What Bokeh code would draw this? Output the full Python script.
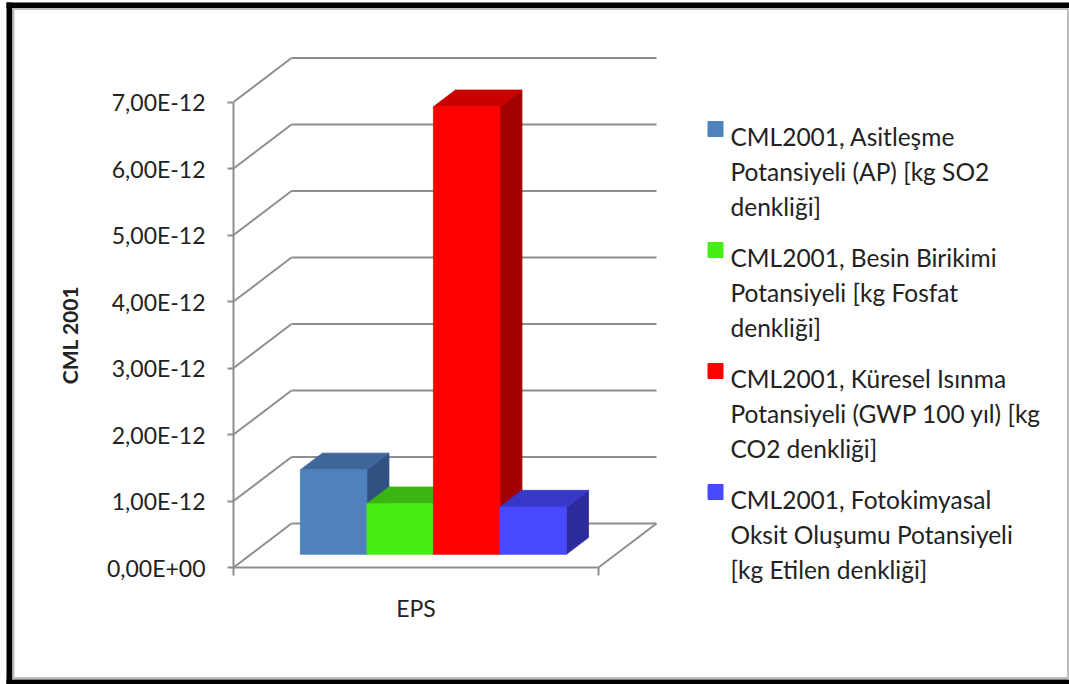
from bokeh.plotting import figure
from bokeh.models import (Range1d, LinearAxis, FixedTicker, CustomJSTickFormatter,
                          ColumnDataSource)
from bokeh.core.properties import value
from bokeh.embed import file_html
from bokeh.resources import INLINE

# ---- data -------------------------------------------------------------
category = "EPS"
series_labels = [
    ["CML2001, Asitleşme", "Potansiyeli (AP) [kg SO2", "denkliği]"],
    ["CML2001, Besin Birikimi", "Potansiyeli [kg Fosfat", "denkliği]"],
    ["CML2001, Küresel Isınma", "Potansiyeli (GWP 100 yıl) [kg", "CO2 denkliği]"],
    ["CML2001, Fotokimyasal", "Oksit Oluşumu Potansiyeli", "[kg Etilen denkliği]"],
]
series_values = [1.27e-12, 0.76e-12, 6.73e-12, 0.71e-12]
y_ticks = [0.0, 1e-12, 2e-12, 3e-12, 4e-12, 5e-12, 6e-12, 7e-12]

front_colors = ["#4f81bd", "#47ee14", "#ff0000", "#4848ff"]
top_colors = ["#3d6699", "#3bb512", "#cc0000", "#3838c8"]
side_colors = ["#2f5283", "#2e8f0e", "#a30000", "#2b2b9e"]

# ---- layout -----------------------------------------------------------
W, H = 1069, 684
ORIGIN_X, ORIGIN_Y = 233, 567   # where the value axis meets the floor (px)
UPP = 1e-12 / 66.5              # value units per screen pixel
FLOOR_W = 365                   # width of the floor (px)
DX, DY = 58, 44 * UPP           # oblique depth of the floor
BAR_W = 66.5
F_FRONT, F_BACK = 0.30, 0.68    # depth band occupied by the bars
FONT = "Lato"
TXT = "#222222"
GRID = "#8e8e8e"


def px(sx):
    return sx - ORIGIN_X


def py(sy):
    return (ORIGIN_Y - sy) * UPP


p = figure(width=W, height=H, output_backend="svg", toolbar_location=None,
           x_range=Range1d(px(0), px(W)), y_range=Range1d(py(H), py(0)),
           x_axis_type=None, y_axis_type=None, min_border=0)
p.outline_line_color = None
p.background_fill_color = "white"
p.border_fill_color = "white"

# value axis
yaxis = LinearAxis(
    ticker=FixedTicker(ticks=y_ticks, minor_ticks=[]),
    formatter=CustomJSTickFormatter(code="""
        const m = tick / 1e-12;
        if (Math.abs(m) < 1e-6) return "0,00E+00";
        return m.toFixed(2).replace(".", ",") + "E-12";
    """),
    bounds=(y_ticks[0], y_ticks[-1]),
    axis_label="CML 2001",
    fixed_location=0,
)
yaxis.axis_line_color = GRID
yaxis.axis_line_width = 2
yaxis.major_tick_line_color = GRID
yaxis.major_tick_line_width = 2
yaxis.major_tick_out = 6
yaxis.major_tick_in = 0
yaxis.major_label_standoff = 22
yaxis.major_label_text_font = FONT
yaxis.major_label_text_font_size = "23px"
yaxis.major_label_text_color = TXT
yaxis.axis_label_text_font = FONT
yaxis.axis_label_text_font_size = "21px"
yaxis.axis_label_text_font_style = "bold"
yaxis.axis_label_text_color = TXT
yaxis.axis_label_standoff = 22
p.add_layout(yaxis, "left")

# category axis along the front edge of the floor
xaxis = LinearAxis(
    ticker=FixedTicker(ticks=[FLOOR_W / 2], minor_ticks=[0, FLOOR_W]),
    formatter=CustomJSTickFormatter(args=dict(name=category), code="return name;"),
    bounds=(0, FLOOR_W),
    fixed_location=0,
)
xaxis.axis_line_color = GRID
xaxis.axis_line_width = 2
xaxis.major_tick_out = 0
xaxis.major_tick_in = 0
xaxis.minor_tick_line_color = GRID
xaxis.minor_tick_line_width = 2
xaxis.minor_tick_out = 8
xaxis.minor_tick_in = 0
xaxis.major_label_standoff = 18
xaxis.major_label_text_font = FONT
xaxis.major_label_text_font_size = "23px"
xaxis.major_label_text_color = TXT
p.add_layout(xaxis, "below")

# back wall gridlines, their oblique links to the value axis, floor edge
gx, gy = [], []
for v in y_ticks:
    gx.append([0, DX]); gy.append([v, v + DY])
    gx.append([DX, DX + FLOOR_W]); gy.append([v + DY, v + DY])
gx.append([FLOOR_W, FLOOR_W + DX]); gy.append([0, DY])
p.multi_line(gx, gy, line_color=GRID, line_width=2)

# 3-D bars
bx0 = F_FRONT * DX + (FLOOR_W - BAR_W * len(series_values)) / 2
by0 = F_FRONT * DY
ddx = (F_BACK - F_FRONT) * DX
ddy = (F_BACK - F_FRONT) * DY
xs, ys, cols = [], [], []
for i, v in enumerate(series_values):
    x0 = bx0 + i * BAR_W
    x1 = x0 + BAR_W
    yb, yt = by0, by0 + v
    # side face
    xs.append([x1, x1 + ddx, x1 + ddx, x1]); ys.append([yb, yb + ddy, yt + ddy, yt])
    cols.append(side_colors[i])
    # top face
    xs.append([x0, x1, x1 + ddx, x0 + ddx]); ys.append([yt, yt, yt + ddy, yt + ddy])
    cols.append(top_colors[i])
    # front face
    xs.append([x0, x1, x1, x0]); ys.append([yb, yb, yt, yt])
    cols.append(front_colors[i])
bars = ColumnDataSource(dict(xs=xs, ys=ys, color=cols))
p.patches("xs", "ys", source=bars, fill_color="color", line_color="color", line_width=0.8)

# legend
LEG_X = 730
LEG_BASE0 = 136
LINE_H = 35
GROUP_H = 121
sq_x, sq_y, tx, ty, tt = [], [], [], [], []
for i, lines in enumerate(series_labels):
    base = LEG_BASE0 + i * GROUP_H
    sq_x.append(px(LEG_X - 15))
    sq_y.append(py(base - 7.5))
    for j, line in enumerate(lines):
        tx.append(px(LEG_X))
        ty.append(py(base + j * LINE_H))
        tt.append(line)
p.scatter(sq_x, sq_y, marker="square", size=15, fill_color=front_colors,
          line_color=front_colors)
p.text(tx, ty, text=tt, text_font=value(FONT), text_font_size="24.5px",
       text_color=TXT, text_baseline="alphabetic", text_align="left")

# picture frame: black mat with a thin grey inner edge
p.quad(left=[px(6), px(6), px(6)], right=[px(12), px(W + 2), px(W + 2)],
       bottom=[py(H + 2), py(7.5), py(H + 2)], top=[py(2), py(2), py(679)],
       fill_color="black", line_color=None)
p.multi_line([[px(13), px(13)], [px(12), px(1067.5)], [px(1067.5), px(1067.5)],
              [px(12), px(1067.5)]],
             [[py(8), py(679)], [py(8.5), py(8.5)], [py(8), py(679)],
              [py(677.5), py(677.5)]],
             line_color="#bdbdbd", line_width=2)

open("out.html", "w").write(file_html(p, INLINE))
